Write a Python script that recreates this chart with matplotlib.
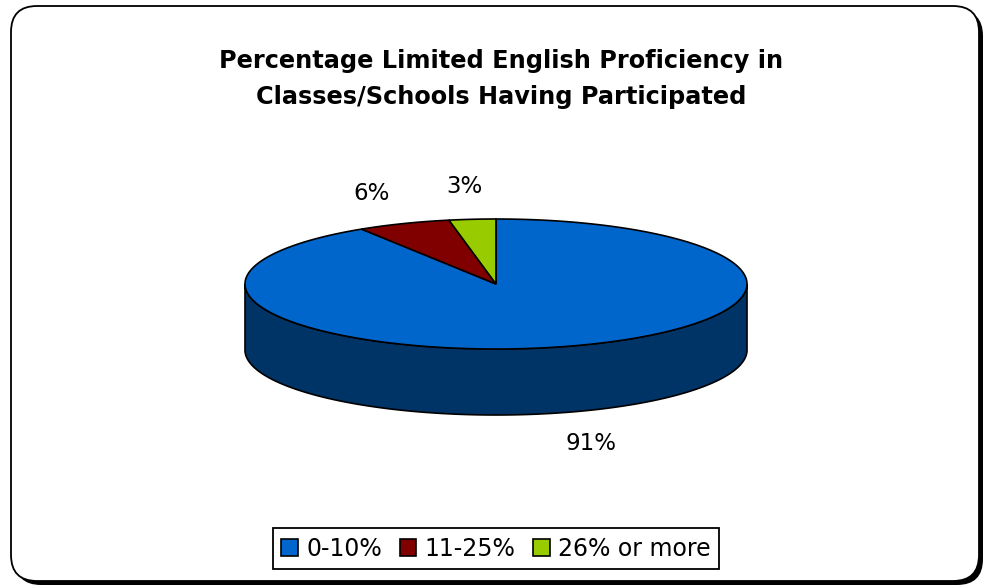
import numpy as np
import matplotlib
matplotlib.use("Agg")
import matplotlib.pyplot as plt
from matplotlib.patches import Polygon, FancyBboxPatch, Patch

# ---- data ----
categories = ["0-10%", "11-25%", "26% or more"]
values = [91, 6, 3]
labels = ["91%", "6%", "3%"]
title = "Percentage Limited English Proficiency in\nClasses/Schools Having Participated"

top_colors = ["#0066CC", "#800000", "#99CC00"]
side_colors = ["#003366", "#400000", "#4C6600"]

W, H = 987, 586
fig = plt.figure(figsize=(W / 100, H / 100), dpi=100)
ax = fig.add_axes([0, 0, 1, 1])
ax.set_xlim(0, W)
ax.set_ylim(H, 0)
ax.axis("off")

# outer rounded frame with shadow
shadow = FancyBboxPatch((15, 10), 968, 575, boxstyle="round,pad=0,rounding_size=26",
                        fc="black", ec="black", lw=0)
ax.add_patch(shadow)
frame = FancyBboxPatch((11, 6), 968, 575, boxstyle="round,pad=0,rounding_size=26",
                       fc="white", ec="black", lw=1.3)
ax.add_patch(frame)

ax.text(501, 79, title, ha="center", va="center", fontsize=17.3, fontweight="bold",
        family="DejaVu Sans", linespacing=1.6, color="black")

# ---- 3D pie geometry ----
cx, cy, rx, ry, depth = 496, 284, 251, 65, 66
fracs = np.array(values, dtype=float) / np.sum(values)
edges = np.concatenate([[0], np.cumsum(fracs)]) * 360.0  # clockwise from 12 o'clock


def pt(theta_deg, dz=0.0):
    t = np.radians(theta_deg)
    return cx + rx * np.sin(t), cy - ry * np.cos(t) + dz


# side walls (front half: 90..270 deg)
for i in range(len(values)):
    a0, a1 = max(edges[i], 90), min(edges[i + 1], 270)
    if a1 <= a0:
        continue
    th = np.linspace(a0, a1, 200)
    upper = [pt(t) for t in th]
    lower = [pt(t, depth) for t in th[::-1]]
    ax.add_patch(Polygon(upper + lower, closed=True, fc=side_colors[i], ec="black", lw=1.2))

# top faces
for i in range(len(values)):
    th = np.linspace(edges[i], edges[i + 1], 300)
    pts = [(cx, cy)] + [pt(t) for t in th]
    ax.add_patch(Polygon(pts, closed=True, fc=top_colors[i], ec="black", lw=1.2, joinstyle="miter"))

# labels
for i in range(len(values)):
    mid = np.radians((edges[i] + edges[i + 1]) / 2)
    lx = cx + 1.35 * rx * np.sin(mid)
    ly = cy - 1.5 * ry * np.cos(mid) + (depth if np.cos(mid) < 0 else 0)
    ax.text(lx, ly, labels[i], ha="center", va="center", fontsize=16.5, family="DejaVu Sans")

handles = [Patch(fc=top_colors[i], ec="black", lw=1.2) for i in range(len(values))]
leg = ax.legend(handles, categories, loc="center", bbox_to_anchor=(496 / W, 1 - 548.5 / H),
                bbox_transform=fig.transFigure, ncol=3, frameon=True, fancybox=False,
                framealpha=1.0,
                prop={"family": "DejaVu Sans", "size": 17}, handlelength=0.7, handleheight=0.7,
                handletextpad=0.35, columnspacing=0.75, borderpad=0.35, edgecolor="black")
leg.get_frame().set_linewidth(1.3)

fig.savefig("out.png", dpi=100)
